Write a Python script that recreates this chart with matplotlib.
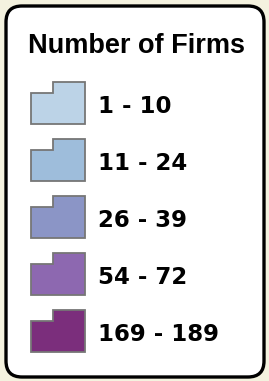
import matplotlib.pyplot as plt
from matplotlib.patches import FancyBboxPatch, Polygon

# Legend data
title = "Number of Firms"
labels = ["1 - 10", "11 - 24", "26 - 39", "54 - 72", "169 - 189"]
colors = ["#BCD3E7", "#9EBDDB", "#8B95C6", "#8D68B0", "#7B2E7C"]

W, H = 269, 381
fig = plt.figure(figsize=(W / 100, H / 100), dpi=100)
fig.patch.set_facecolor("#F4F2DF")
ax = fig.add_axes([0, 0, 1, 1])
ax.set_xlim(0, W)
ax.set_ylim(H, 0)
ax.axis("off")

# white rounded box
box = FancyBboxPatch((6, 6), 258, 371, boxstyle="round,pad=0,rounding_size=16",
                     facecolor="white", edgecolor="black", linewidth=2.4)
ax.add_patch(box)

ax.text(136, 53, title, ha="center", va="baseline", fontsize=19.5, fontweight="bold",
        family=["Liberation Sans", "DejaVu Sans"])

# step-shaped swatches
x0, x1, xs = 31, 85, 53
for i, (lab, col) in enumerate(zip(labels, colors)):
    top = 82 + i * 57
    bot = top + 42
    step = top + 11
    pts = [(x0, step), (xs, step), (xs, top), (x1, top), (x1, bot), (x0, bot)]
    ax.add_patch(Polygon(pts, closed=True, facecolor=col, edgecolor="#767676", linewidth=1.3))
    ax.text(98, top + 31, lab, ha="left", va="baseline", fontsize=16.5, fontweight="bold",
            family=["DejaVu Sans"])

fig.savefig("out.png", dpi=100, facecolor=fig.get_facecolor())
